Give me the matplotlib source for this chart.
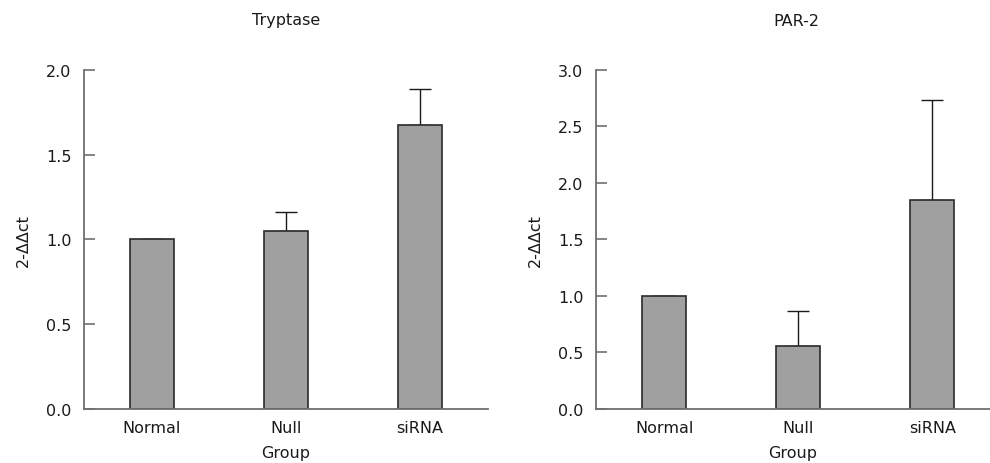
import matplotlib
matplotlib.use("Agg")
import matplotlib.pyplot as plt

groups = ["Normal", "Null", "siRNA"]
tryptase_vals = [1.0, 1.05, 1.675]
tryptase_err = [0.0, 0.11, 0.21]
par2_vals = [1.0, 0.555, 1.845]
par2_err = [0.0, 0.31, 0.89]
titles = ["Tryptase", "PAR-2"]
ylabel = "2-ΔΔct"
xlabel = "Group"
tryptase_yticks = [0.0, 0.5, 1.0, 1.5, 2.0]
par2_yticks = [0.0, 0.5, 1.0, 1.5, 2.0, 2.5, 3.0]

plt.rcParams['font.family'] = ['DejaVu Sans']
fs = 11.5

fig = plt.figure(figsize=(9.9, 4.64), dpi=100)
ax1 = fig.add_axes([84/990, 54/464, 404/990, 339.3/464])
ax2 = fig.add_axes([596/990, 54/464, 394/990, 339.3/464])

specs = [
    (ax1, tryptase_vals, tryptase_err, tryptase_yticks, (-0.507, 2.507), titles[0], 286),
    (ax2, par2_vals, par2_err, par2_yticks, (-0.51, 2.43), titles[1], 796),
]
for ax, vals, err, yt, xl, title, tx in specs:
    x = list(range(len(groups)))
    ax.bar(x, vals, width=0.33, color="#a0a0a0", edgecolor="#2a2a2a", linewidth=1.2, zorder=2)
    ax.errorbar(x, vals, yerr=[[0]*len(err), err], fmt="none", ecolor="#1a1a1a",
                elinewidth=1.0, capsize=7.8, capthick=1.0, zorder=1)
    ax.set_xlim(*xl)
    ax.set_ylim(yt[0], yt[-1])
    ax.set_yticks(yt)
    ax.set_yticklabels([f"{v:.1f}" for v in yt], fontsize=fs, color="#1a1a1a")
    ax.set_xticks(x)
    ax.set_xticklabels(groups, fontsize=fs, color="#1a1a1a")
    ax.tick_params(axis="x", length=0, pad=8)
    ax.tick_params(axis="y", direction="in", length=8, width=1.2, color="#707070", pad=9)
    for s in ["top", "right"]:
        ax.spines[s].set_visible(False)
    for s in ["left", "bottom"]:
        ax.spines[s].set_color("#707070")
        ax.spines[s].set_linewidth(1.3)
    ax.set_ylabel(ylabel, fontsize=fs, color="#1a1a1a", labelpad=11)
    ax.set_xlabel(xlabel, fontsize=fs, color="#1a1a1a", labelpad=7)
    fig.text(tx/990, 1 - 21/464, title, ha="center", va="center", fontsize=fs, color="#1a1a1a")

fig.savefig("out.png", dpi=100)
